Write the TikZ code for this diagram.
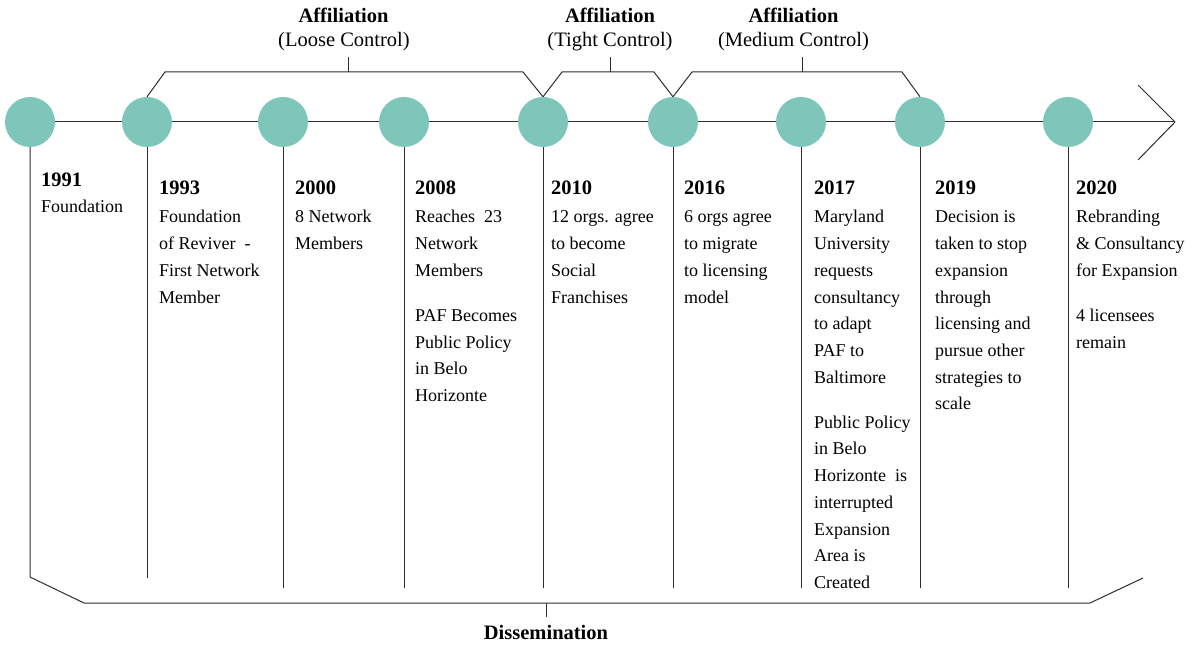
\documentclass[tikz,border=0pt]{standalone}
\usepackage{fontspec}
\setmainfont{Liberation Serif}
\definecolor{dotcol}{RGB}{125,198,185}
\definecolor{lncol}{RGB}{45,45,45}
\newcommand\fsz{\fontsize{18bp}{26.7bp}\selectfont}
\newcommand\fbig{\fontsize{20.5bp}{24bp}\selectfont}
\newcommand\colt[1]{\begin{tabular}[t]{@{}l@{}}#1\end{tabular}}
\pgfdeclarelayer{background}
\pgfsetlayers{background,main}
\begin{document}
\begin{tikzpicture}[x=1bp,y=-1bp,
  dot/.style={circle, fill=dotcol, minimum size=50bp, inner sep=0pt},
  ln/.style={draw=lncol, line width=1bp},
  yr/.style={anchor=base west, inner sep=0pt, font=\fbig\bfseries},
  desc/.style={anchor=base west, inner sep=0pt, font=\fsz},
  hd/.style={anchor=base, inner sep=0pt, font=\fbig\bfseries},
  sub/.style={anchor=base, inner sep=0pt, font=\fbig}]
\useasboundingbox (0,0) rectangle (1199,645);
% circles
\node[dot] (c1) at (30,122) {};
\node[dot] (c2) at (147,122) {};
\node[dot] (c3) at (283,122) {};
\node[dot] (c4) at (404,122) {};
\node[dot] (c5) at (543,122) {};
\node[dot] (c6) at (673,122) {};
\node[dot] (c7) at (801,122) {};
\node[dot] (c8) at (920,122) {};
\node[dot] (c9) at (1068,122) {};
% coordinates
\coordinate (tip) at (1175,122);
\coordinate (a1) at (1138,85);
\coordinate (a2) at (1138,160);
\coordinate (e1) at (30,577);
\coordinate (e2) at (147,578);
\coordinate (e3) at (283,588);
\coordinate (e4) at (404,588);
\coordinate (e5) at (543,588);
\coordinate (e6) at (673,588);
\coordinate (e7) at (801,588);
\coordinate (e8) at (920,588);
\coordinate (e9) at (1068,588);
\coordinate (bl) at (84,603);
\coordinate (br) at (1090,603);
\coordinate (bre) at (1143,578);
\coordinate (bt1) at (546,603);
\coordinate (bt2) at (546,617);
\coordinate (l1) at (165,72);
\coordinate (l2) at (523,72);
\coordinate (lt1) at (348,72);
\coordinate (lt2) at (348,57);
\coordinate (t1) at (562,72);
\coordinate (t2) at (654,72);
\coordinate (tt1) at (610,72);
\coordinate (tt2) at (610,57);
\coordinate (m1) at (692,72);
\coordinate (m2) at (902,72);
\coordinate (mt1) at (802,72);
\coordinate (mt2) at (802,57);
\begin{pgfonlayer}{background}
\draw[ln] (c1.center) -- (tip);
\draw[ln] (a1) -- (tip) -- (a2);
\draw[ln] (c1.south) -- (e1) -- (bl) -- (br) -- (bre);
\draw[ln] (bt1) -- (bt2);
\draw[ln] (c2.south) -- (e2);
\draw[ln] (c3.south) -- (e3);
\draw[ln] (c4.south) -- (e4);
\draw[ln] (c5.south) -- (e5);
\draw[ln] (c6.south) -- (e6);
\draw[ln] (c7.south) -- (e7);
\draw[ln] (c8.south) -- (e8);
\draw[ln] (c9.south) -- (e9);
\draw[ln] (c2.north) -- (l1) -- (l2) -- (c5.north);
\draw[ln] (lt1) -- (lt2);
\draw[ln] (c5.north) -- (t1) -- (t2) -- (c6.north);
\draw[ln] (tt1) -- (tt2);
\draw[ln] (c6.north) -- (m1) -- (m2) -- (c8.north);
\draw[ln] (mt1) -- (mt2);
\end{pgfonlayer}
% top labels
\node[hd] (h1) at (343.5,23) {Affiliation};
\node[sub] (s1) at (344,47) {(Loose Control)};
\node[hd] (h2) at (610,23) {Affiliation};
\node[sub] (s2) at (610,47) {(Tight Control)};
\node[hd] (h3) at (793.5,23) {Affiliation};
\node[sub] (s3) at (793.5,47) {(Medium Control)};
\node[hd] (dis) at (546,639) {Dissemination};
% years
\node[yr] (y1) at (41,187) {1991};
\node[desc] (d1) at (41,212.5) {Foundation};
\node[yr] (y2) at (159,195) {1993};
\node[desc] (d2) at (159,223) {\colt{Foundation\\of Reviver~ -\\First Network\\Member}};
\node[yr] (y3) at (295,195) {2000};
\node[desc] (d3) at (295,223) {\colt{8 Network\\Members}};
\node[yr] (y4) at (415,195) {2008};
\node[desc] (d4) at (415,223) {\colt{Reaches~ 23\\Network\\Members\\[18.3bp]PAF Becomes\\Public Policy\\in Belo\\Horizonte}};
\node[yr] (y5) at (551,195) {2010};
\node[desc] (d5) at (551,223) {\colt{12 orgs. agree\\to become\\Social\\Franchises}};
\node[yr] (y6) at (684,195) {2016};
\node[desc] (d6) at (684,223) {\colt{6 orgs agree\\to migrate\\to licensing\\model}};
\node[yr] (y7) at (814,195) {2017};
\node[desc] (d7) at (814,223) {\colt{Maryland\\University\\requests\\consultancy\\to adapt\\PAF to\\Baltimore\\[18.3bp]Public Policy\\in Belo\\Horizonte~ is\\interrupted\\Expansion\\Area is\\Created}};
\node[yr] (y8) at (935,195) {2019};
\node[desc] (d8) at (935,223) {\colt{Decision is\\taken to stop\\expansion\\through\\licensing and\\pursue other\\strategies to\\scale}};
\node[yr] (y9) at (1076,195) {2020};
\node[desc] (d9) at (1076,223) {\colt{Rebranding\\\& Consultancy\\for Expansion\\[18.3bp]4 licensees\\remain}};
\end{tikzpicture}
\end{document}
